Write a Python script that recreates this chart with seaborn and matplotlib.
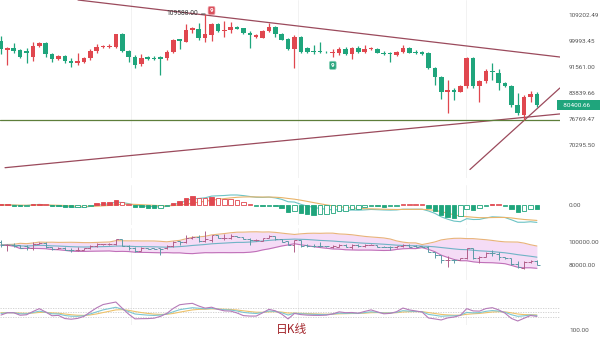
import numpy as np
import pandas as pd
import matplotlib
matplotlib.use("Agg")
import matplotlib.pyplot as plt
from matplotlib.ticker import NullLocator
import matplotlib.transforms as mtrans
import seaborn as sns

# ---------------- data ----------------
opens = [99993, 96990, 97650, 96990, 96662, 94716, 98314, 99318, 95684, 94076,
         95038, 93441, 92810, 93125, 94396, 96662, 97981, 97981, 97981, 102394,
         96662, 94716, 92496, 94716, 94500, 94716, 94396, 96335, 100674, 99655,
         103791, 104143, 101015, 102047, 105923, 103440, 103791, 104851, 104497, 102741,
         101358, 101015, 103440, 104851, 102394, 100674, 97319, 101358, 97650, 96662,
         96662, 96400, 96009, 96009, 97319, 95684, 97650, 96335, 97319, 97319,
         96009, 96009, 95360, 96335, 97650, 96335, 96335, 96009, 91251, 88510,
         84124, 84696, 84124, 85851, 94396, 85851, 87318, 90328, 89718, 86729,
         85851, 80499, 77817, 82711, 83556]
highs = [101702, 97981, 99318, 97319, 97650, 99655, 99655, 99655, 96009, 95360,
         95360, 94396, 96009, 94716, 97319, 98982, 98647, 98982, 102500, 102741,
         96990, 95360, 95684, 95038, 95038, 94900, 96990, 100674, 100800, 105923,
         104851, 106282, 109588, 106282, 106282, 107005, 106643, 105100, 104600, 103440,
         102394, 103791, 106282, 105207, 102741, 101015, 102047, 101702, 97981, 98647,
         99655, 96662, 97319, 97981, 97981, 97981, 98314, 98647, 97981, 97650,
         96662, 96335, 96662, 98647, 97981, 96990, 96662, 96335, 91561, 88811,
         87615, 85271, 86143, 94716, 94716, 87615, 90942, 92810, 90942, 86900,
         86143, 83839, 83273, 84409, 84124]
lows = [95684, 92183, 96009, 94396, 92810, 93441, 97981, 94716, 93125, 93900,
        92810, 91561, 92183, 92810, 93758, 96009, 97650, 97650, 97650, 96335,
        93125, 91251, 91871, 93758, 93758, 89112, 93758, 96009, 97319, 99500,
        102741, 100333, 99655, 99993, 103090, 101358, 102741, 104000, 102394, 97650,
        101015, 100900, 103090, 101358, 100200, 96990, 91251, 96009, 96009, 95684,
        96009, 96009, 94716, 95360, 95360, 94076, 96009, 96009, 96990, 95900,
        95360, 93125, 95038, 96009, 95900, 95800, 95360, 91000, 86143, 82152,
        78346, 81874, 84000, 85271, 85271, 81321, 86729, 87615, 84696, 85561,
        79955, 77817, 76510, 81321, 79955]
closes = [97319, 97650, 96662, 94716, 96009, 98314, 99318, 95684, 94076, 95038,
          93441, 92810, 93441, 94396, 96662, 97981, 98314, 98314, 102394, 96662,
          94716, 92183, 94396, 94076, 94200, 94200, 96335, 100333, 99993, 103791,
          104497, 101015, 102394, 105923, 103440, 103791, 104851, 104143, 102741, 102047,
          102047, 103440, 104851, 102394, 100333, 97319, 101358, 96335, 96335, 96335,
          96335, 96200, 96335, 97319, 95684, 97650, 96335, 97319, 97650, 96009,
          95684, 95684, 96335, 97650, 96009, 96009, 95800, 91251, 88510, 84124,
          84696, 84124, 85851, 94396, 85851, 87318, 90328, 90023, 86729, 85851,
          80499, 78346, 82711, 83556, 80400]

price_ticks = [109202.49, 99993.45, 91561.00, 83839.66, 76769.47, 70295.50]
price_tick_labels = ["109202.49", "99993.45", "91561.00", "83839.66", "76769.47", "70295.50"]
last_price_label = "80400.66"
high_label = "109588.00"
high_index = 32
red_nine_index = 33
green_nine_index = 52
support_level = 76640
upper_trend_x = [12.07, 87.6]
upper_trend_y = [114893, 94716]
lower_trend_x = [0.63, 87.6]
lower_trend_y = [65100, 78100]
steep_trend_x = [73.5, 87.6]
steep_trend_y = [64700, 85270]
bb_ticks = [100000, 80000]
bb_tick_labels = ["100000.00", "80000.00"]
title_text = "日K线"

df = pd.DataFrame({"open": opens, "high": highs, "low": lows, "close": closes})
df["i"] = np.arange(len(df))
n = len(df)

UP = "#e0474f"
DOWN = "#1fa57c"

# ---------------- indicators from the read prices ----------------
ema12 = df["close"].ewm(span=12, adjust=True).mean()
ema26 = df["close"].ewm(span=26, adjust=True).mean()
df["dif"] = ema12 - ema26
df["dea"] = df["dif"].ewm(span=9, adjust=True).mean()
df["hist"] = 2 * (df["dif"] - df["dea"])

mid = df["close"].rolling(20, min_periods=1).mean()
sd = df["close"].rolling(20, min_periods=2).std(ddof=0).bfill()
df["bb_mid"] = mid
df["bb_up"] = mid + 2 * sd
df["bb_lo"] = mid - 2 * sd

llv = df["low"].rolling(9, min_periods=1).min()
hhv = df["high"].rolling(9, min_periods=1).max()
rsv = ((df["close"] - llv) / (hhv - llv) * 100).fillna(50)
K, D = [], []
k, d = 50.0, 50.0
for r in rsv:
    k = 2 / 3 * k + 1 / 3 * r
    d = 2 / 3 * d + 1 / 3 * k
    K.append(k); D.append(d)
df["K"] = K; df["D"] = D; df["J"] = 3 * df["K"] - 2 * df["D"]

# ---------------- figure ----------------
sns.set_theme(style="white")
plt.rcParams["font.family"] = ["Roboto", "DejaVu Sans"]
fig = plt.figure(figsize=(6, 3.4), dpi=100)

def rect(x0, y0, x1, y1):
    return [x0 / 600, 1 - y1 / 340, (x1 - x0) / 600, (y1 - y0) / 340]

XL = (-0.157, 87.62)
TXT = "#555555"

def clean(ax):
    for s in ax.spines.values():
        s.set_visible(False)
    ax.set_xlim(*XL)
    ax.set_xticks([])
    ax.yaxis.tick_right()
    ax.tick_params(axis="y", length=0, pad=6, labelsize=4.6, colors=TXT)
    for gx in [20.3, 46.6, 72.9]:
        ax.axvline(gx, color="#f0f0f0", lw=0.6, zorder=0)

# main candles
ax = fig.add_axes(rect(0, 0, 560, 178))
clean(ax)
ax.set_yscale("log")
ax.set_ylim(62867, 114893)
ax.yaxis.set_minor_locator(NullLocator())
ax.set_yticks(price_ticks)
ax.set_yticklabels(price_tick_labels)

colors = np.where(df["close"] >= df["open"], UP, DOWN)
ax.vlines(df["i"], df["low"], df["high"], colors=colors, lw=0.9, zorder=3)
body_lo = np.minimum(df["open"], df["close"])
body_hi = np.maximum(df["open"], df["close"])
body_hi = np.maximum(body_hi, body_lo * 1.0025)
ax.bar(df["i"], body_hi - body_lo, bottom=body_lo, width=0.72, color=colors, zorder=4, linewidth=0)

sns.lineplot(x=upper_trend_x, y=upper_trend_y, ax=ax, color="#9b4a5c", lw=0.9)
sns.lineplot(x=lower_trend_x, y=lower_trend_y, ax=ax, color="#9b4a5c", lw=0.9)
sns.lineplot(x=steep_trend_x, y=steep_trend_y, ax=ax, color="#9b4a5c", lw=0.9)
ax.axhline(support_level, color="#5d7e3a", lw=0.9, zorder=2)

ax.annotate(high_label, xy=(high_index, highs[high_index]), xytext=(-5, 0),
            textcoords="offset points", ha="right", va="center", fontsize=4.8, color="#333333",
            arrowprops=dict(arrowstyle="-", color="#333333", lw=0.6, shrinkA=0, shrinkB=0))
ax.annotate("9", xy=(red_nine_index, highs[red_nine_index]), xytext=(0, 9),
            textcoords="offset points", ha="center", va="center", fontsize=4.6, color="white",
            fontweight="bold", bbox=dict(boxstyle="round,pad=0.25", fc="#d9505c", ec="#f0a0a8", lw=0.5))
ax.annotate("9", xy=(green_nine_index, lows[green_nine_index]), xytext=(0, -6),
            textcoords="offset points", ha="center", va="center", fontsize=4.6, color="white",
            fontweight="bold", bbox=dict(boxstyle="round,pad=0.25", fc="#2aa57e", ec="#8fd4bd", lw=0.5))
tr = mtrans.blended_transform_factory(ax.transAxes, ax.transData)
ax.text(1.0, closes[-1], "  " + last_price_label + "     ", transform=tr, ha="left", va="center",
        fontsize=4.6, color="white", bbox=dict(boxstyle="square,pad=0.4", fc="#1fa57c", ec="none"))

# MACD panel
ax2 = fig.add_axes(rect(0, 185, 560, 225))
clean(ax2)
m = max(df["dif"].abs().max(), df["dea"].abs().max(), df["hist"].abs().max()) * 1.15
ax2.set_ylim(-m, m)
ax2.set_yticks([0]); ax2.set_yticklabels(["0.00"])
prev = df["hist"].shift(1).fillna(0).abs()
for i, h in enumerate(df["hist"]):
    c = UP if h >= 0 else DOWN
    filled = abs(h) >= prev.iloc[i]
    hh = h if abs(h) > m * 0.03 else (m * 0.03 if h >= 0 else -m * 0.03)
    ax2.bar(i, hh, width=0.7, facecolor=c if filled else "white", edgecolor=c, lw=0.6, zorder=3)
sns.lineplot(data=df, x="i", y="dif", ax=ax2, color="#6cc3c4", lw=0.8)
sns.lineplot(data=df, x="i", y="dea", ax=ax2, color="#e9b46a", lw=0.8)
ax2.set_xlabel(""); ax2.set_ylabel("")

# Bollinger panel
ax3 = fig.add_axes(rect(0, 228, 560, 280))
clean(ax3)
ax3.set_ylim(66957, 112174)
ax3.set_yticks(bb_ticks); ax3.set_yticklabels(bb_tick_labels)
ax3.fill_between(df["i"], df["bb_lo"], df["bb_up"], color="#f5dcf6", lw=0, zorder=1)
sns.lineplot(data=df, x="i", y="bb_up", ax=ax3, color="#e8b37a", lw=0.8)
sns.lineplot(data=df, x="i", y="bb_mid", ax=ax3, color="#6fb3c6", lw=0.8)
sns.lineplot(data=df, x="i", y="bb_lo", ax=ax3, color="#c070b8", lw=0.8)
bcol = np.where(df["close"] >= df["open"], "#b0608a", "#5c9aa6")
ax3.vlines(df["i"], df["low"], df["high"], colors=bcol, lw=0.7, zorder=3)
ax3.hlines(df["close"], df["i"], df["i"] + 0.45, colors=bcol, lw=0.7, zorder=3)
ax3.hlines(df["open"], df["i"] - 0.45, df["i"], colors=bcol, lw=0.7, zorder=3)
ax3.set_xlabel(""); ax3.set_ylabel("")

# KDJ panel
ax4 = fig.add_axes(rect(0, 290, 560, 325))
clean(ax4)
ax4.set_ylim(-31.9, 193.9)
ax4.set_yticks([])
for lv in [80, 50, 20]:
    ax4.axhline(lv, color="#cccccc", lw=0.6, ls=(0, (1.5, 1.5)), zorder=1)
sns.lineplot(data=df, x="i", y="D", ax=ax4, color="#eec26a", lw=0.8)
sns.lineplot(data=df, x="i", y="K", ax=ax4, color="#7cc6d2", lw=0.8)
sns.lineplot(data=df, x="i", y="J", ax=ax4, color="#b57ab8", lw=0.8)
ax4.set_xlabel(""); ax4.set_ylabel("")

fig.text(292 / 600, 1 - 329 / 340, title_text, ha="center", va="center", fontsize=8.5,
         color="#a3262c", family=["Noto Sans CJK SC", "DejaVu Sans"])
fig.text(579 / 600, 1 - 331 / 340, "100.00", ha="center", va="center", fontsize=4.6, color=TXT)

fig.savefig("out.png", dpi=100, facecolor="white")
